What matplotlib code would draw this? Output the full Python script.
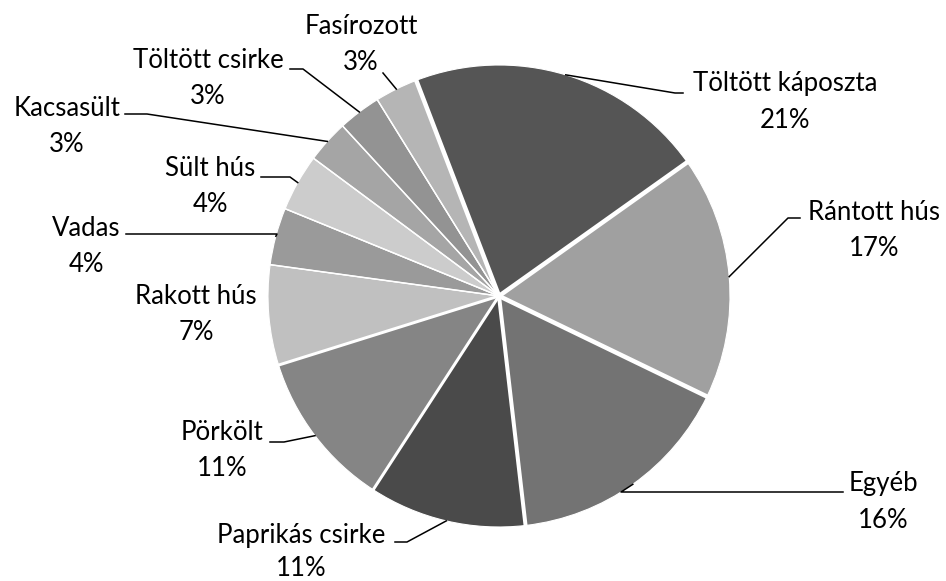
import numpy as np
import matplotlib
matplotlib.use('Agg')
from matplotlib import pyplot as plt

plt.rcParams['font.family'] = ['Lato', 'DejaVu Sans']

# share of each dish, clockwise from the top slice
dishes = ['Töltött káposzta', 'Rántott hús', 'Egyéb', 'Paprikás csirke', 'Pörkölt',
          'Rakott hús', 'Vadas', 'Sült hús', 'Kacsasült', 'Töltött csirke', 'Fasírozott']
shares = [21, 17, 16, 11, 11, 7, 4, 4, 3, 3, 3]
greys = ['#555555', '#a0a0a0', '#737373', '#4a4a4a', '#858585', '#c0c0c0',
         '#9a9a9a', '#cccccc', '#a5a5a5', '#939393', '#b5b5b5']

# layout in pixels, y measured from the top of the image
W, H = 946, 581
CX, CY, R = 499, 296, 231
START = 111
gap_px = [4.5, 4.5, 4, 3, 3, 1.5, 1.5, 1.5, 1.5, 1.5, 4.5]
label_xy = [(785, 84), (874, 213), (883, 484), (301, 535), (222, 433), (196, 297),
            (86, 229), (210, 169), (67, 108), (208, 60), (361, 27)]
pct_dy = [36, 35, 36, 33, 36, 36, 36, 36, 36, 36, 36]
# leader: elbow point and end x (None = no leader)
leaders = [((675, 93), 683), ((788, 218), 800), ((621, 492), 843), ((407, 542), 395),
           ((284, 442), 270), None, ((277, 234), 126), ((290, 177), 261),
           ((147, 114), 125), ((303, 69), 290), ((383, 73), 383)]
FS = 18.5


def up(y):
    return H - y


fig = plt.figure(figsize=(W / 100, H / 100), dpi=100)
ax = fig.add_axes([0, 0, 1, 1])

ax.pie(shares, colors=greys, startangle=START, counterclock=False,
       center=(CX, up(CY)), radius=R,
       wedgeprops=dict(edgecolor='white', linewidth=0.8))

total = float(sum(shares))
cum = np.cumsum(shares) / total
before = cum - np.array(shares) / total

# white separators between slices
for frac, g in zip(cum, gap_px):
    th = np.radians(START - 360 * frac)
    ax.plot([CX, CX + (R + 3) * np.cos(th)], [up(CY), up(CY) + (R + 3) * np.sin(th)],
            color='white', lw=g * 0.72, solid_capstyle='butt', zorder=5)

for i, name in enumerate(dishes):
    lx, ly = label_xy[i]
    ax.text(lx, up(ly), name, ha='center', va='center', fontsize=FS, color='black')
    ax.text(lx, up(ly + pct_dy[i]), '%d%%' % shares[i], ha='center', va='center',
            fontsize=FS, color='black')
    if leaders[i] is None:
        continue
    th = np.radians(START - 360 * (before[i] + shares[i] / total / 2))
    ax_, ay_ = CX + R * np.cos(th), up(CY) + R * np.sin(th)
    (ex, ey), endx = leaders[i]
    ax.plot([ax_, ex, endx], [ay_, up(ey), up(ey)], color='black', lw=1.1, zorder=6)

ax.set_xlim(0, W)
ax.set_ylim(0, H)
ax.set_aspect('equal')
ax.axis('off')

fig.savefig('out.png', dpi=100, facecolor='white')
